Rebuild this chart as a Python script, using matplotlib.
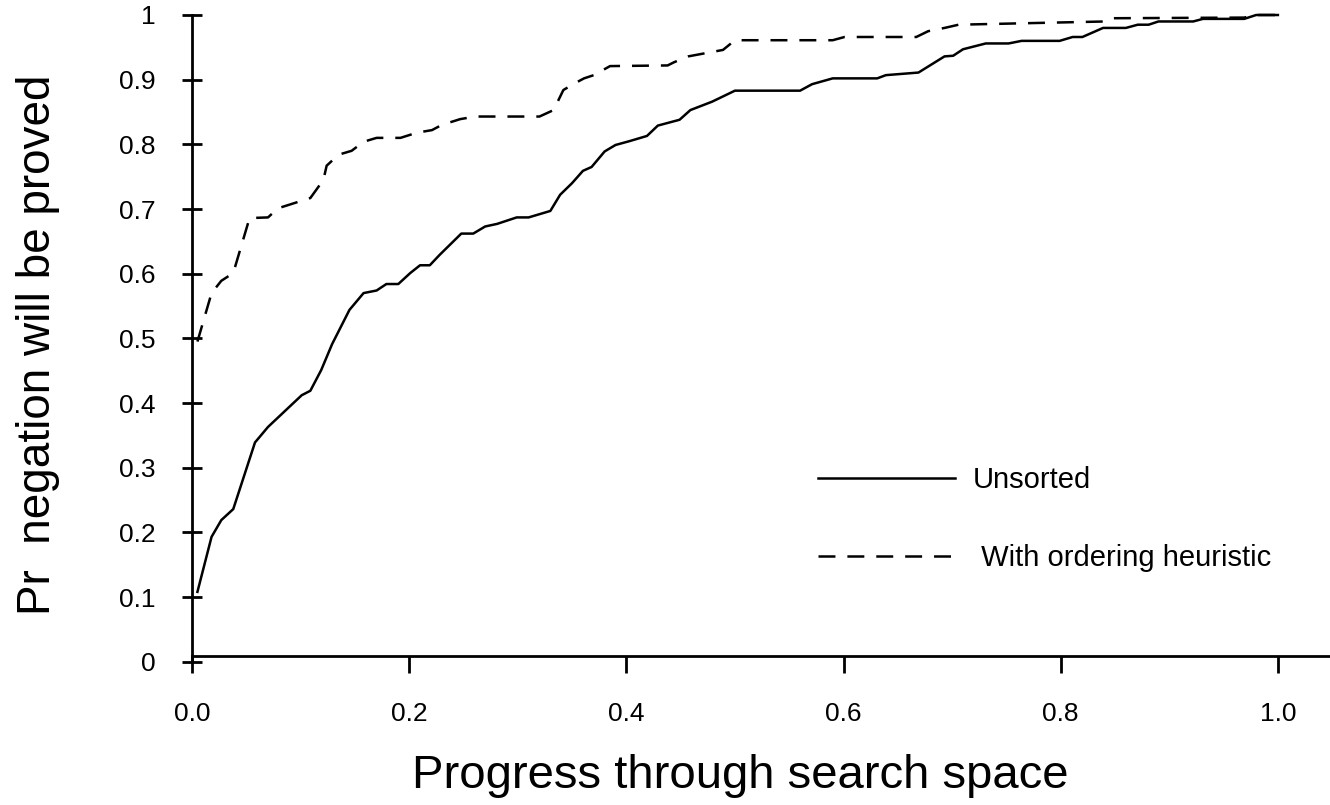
import matplotlib
matplotlib.use("Agg")
import matplotlib.pyplot as plt

plt.rcParams['font.family'] = ['Liberation Sans', 'DejaVu Sans']
plt.rcParams['lines.scale_dashes'] = False

# Data
unsorted_x = [0.005, 0.018, 0.027, 0.038, 0.058, 0.070, 0.101, 0.109, 0.119, 0.129,
              0.145, 0.158, 0.170, 0.179, 0.190, 0.201, 0.210, 0.219, 0.228, 0.248,
              0.259, 0.270, 0.281, 0.299, 0.310, 0.330, 0.339, 0.350, 0.360, 0.368,
              0.380, 0.390, 0.403, 0.419, 0.429, 0.449, 0.459, 0.479, 0.500, 0.560,
              0.571, 0.590, 0.631, 0.639, 0.669, 0.693, 0.701, 0.710, 0.731, 0.752,
              0.764, 0.799, 0.811, 0.820, 0.839, 0.860, 0.871, 0.881, 0.890, 0.922,
              0.931, 0.969, 0.980, 1.000]
unsorted_y = [0.108, 0.193, 0.219, 0.236, 0.339, 0.363, 0.412, 0.419, 0.451, 0.491,
              0.544, 0.570, 0.574, 0.584, 0.584, 0.601, 0.613, 0.613, 0.629, 0.662,
              0.662, 0.673, 0.677, 0.687, 0.687, 0.697, 0.722, 0.740, 0.759, 0.765,
              0.789, 0.799, 0.805, 0.813, 0.829, 0.838, 0.853, 0.866, 0.883, 0.883,
              0.893, 0.902, 0.902, 0.907, 0.911, 0.936, 0.937, 0.947, 0.956, 0.956,
              0.960, 0.960, 0.966, 0.966, 0.980, 0.980, 0.985, 0.985, 0.990, 0.990,
              0.994, 0.994, 1.000, 1.000]

ordered_x = [0.005, 0.018, 0.027, 0.038, 0.053, 0.070, 0.079, 0.109, 0.121, 0.124,
             0.135, 0.147, 0.158, 0.170, 0.192, 0.207, 0.221, 0.230, 0.247, 0.261,
             0.320, 0.333, 0.342, 0.351, 0.361, 0.370, 0.385, 0.438, 0.444, 0.457,
             0.489, 0.500, 0.590, 0.601, 0.667, 0.678, 0.693, 0.706, 0.841, 0.847,
             0.969, 0.980, 1.000]
ordered_y = [0.495, 0.570, 0.589, 0.601, 0.686, 0.687, 0.701, 0.717, 0.745, 0.767,
             0.784, 0.790, 0.804, 0.810, 0.810, 0.818, 0.822, 0.830, 0.839, 0.843,
             0.843, 0.853, 0.884, 0.893, 0.902, 0.907, 0.921, 0.922, 0.927, 0.936,
             0.946, 0.961, 0.961, 0.966, 0.966, 0.975, 0.980, 0.985, 0.990, 0.995,
             0.996, 1.000, 1.000]

series_labels = ["Unsorted", " With ordering heuristic"]
x_ticks = [0.0, 0.2, 0.4, 0.6, 0.8, 1.0]
x_tick_labels = ["0.0", "0.2", "0.4", "0.6", "0.8", "1.0"]
y_ticks = [0, 0.1, 0.2, 0.3, 0.4, 0.5, 0.6, 0.7, 0.8, 0.9, 1.0]
y_tick_labels = ["0", "0.1", "0.2", "0.3", "0.4", "0.5", "0.6", "0.7", "0.8", "0.9", "1"]

fig = plt.figure(figsize=(13.3, 8.05), dpi=100)
ax = fig.add_axes([192/1330, (805-661.7)/805, 1138/1330, (661.7-15)/805])

dash = (0, (12.2, 8.6))
ax.plot(unsorted_x, unsorted_y, color='black', lw=1.8, ls='-',
        label=series_labels[0], clip_on=False)
ax.plot(ordered_x, ordered_y, color='black', lw=1.8, ls=dash,
        label=series_labels[1], clip_on=False)

ax.set_xlim(0, 1.048)
ax.set_ylim(0, 1.0)

for s in ['top', 'right']:
    ax.spines[s].set_visible(False)
ax.spines['bottom'].set_position(('data', 0.009))
for s in ['left', 'bottom']:
    ax.spines[s].set_linewidth(2.0)

ax.set_xticks(x_ticks)
ax.set_xticklabels(x_tick_labels)
ax.set_yticks(y_ticks)
ax.set_yticklabels(y_tick_labels)
ax.tick_params(axis='x', direction='out', length=12, width=2.0, pad=21, labelsize=19)
ax.tick_params(axis='y', direction='inout', length=14, width=2.0, pad=19, labelsize=19)

ax.set_xlabel("Progress through search space", fontsize=34)
ax.xaxis.set_label_coords((740 - 192) / 1138, (661.7 - 754) / 646.7)
ax.set_ylabel("Pr  negation will be proved", fontsize=33)
ax.yaxis.set_label_coords((60 - 192) / 1138, 0.49)

leg = ax.legend(loc='upper left', bbox_to_anchor=((818 - 192) / 1138, (661.7 - 466) / 646.7),
                frameon=False, fontsize=21, handlelength=4.7, handletextpad=0.62,
                labelspacing=1.72, borderaxespad=0, borderpad=0)

fig.savefig("out.png", dpi=100)
